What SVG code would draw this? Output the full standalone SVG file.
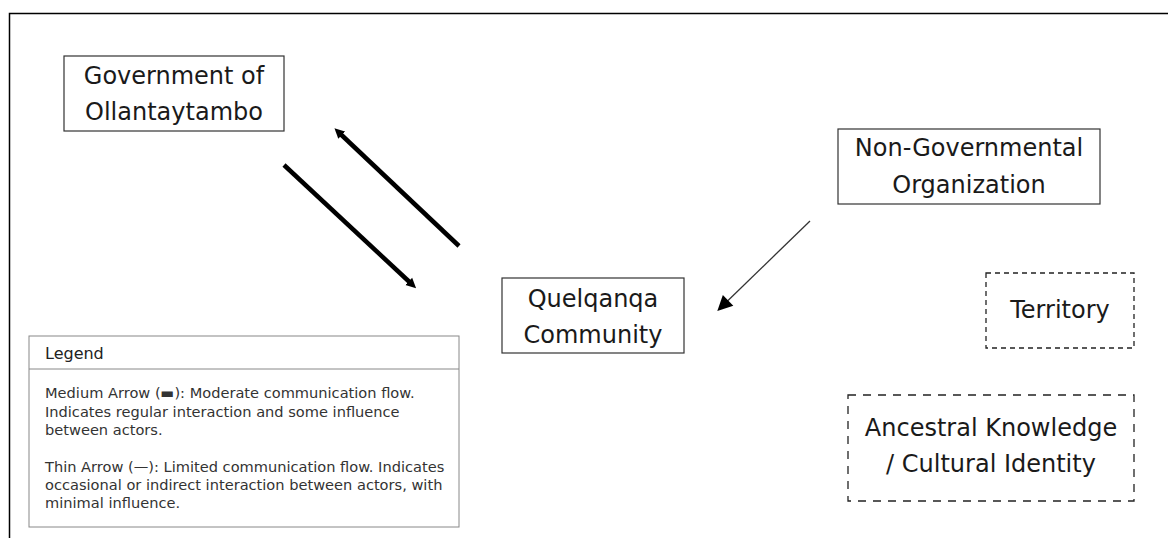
<svg xmlns="http://www.w3.org/2000/svg" width="1168" height="538" viewBox="0 0 1168 538">
<style>
.node{fill:#fff;stroke:#333;stroke-width:1.2}
.dash1{fill:#fff;stroke:#222;stroke-width:1.3;stroke-dasharray:5 4}
.dash2{fill:#fff;stroke:#222;stroke-width:1.3;stroke-dasharray:8 7}
.lbl{font-family:"DejaVu Sans",sans-serif;font-size:24px;fill:#1a1a1a;text-anchor:middle}
.leg{font-family:"DejaVu Sans",sans-serif;font-size:14.6px;fill:#333}
.legt{font-family:"DejaVu Sans",sans-serif;font-size:16px;fill:#222}
.med{stroke:#000;stroke-width:4.5;fill:none}
.thin{stroke:#333;stroke-width:1.3;fill:none}
</style>
<defs>
<marker id="hMed" viewBox="0 0 10 10" refX="1" refY="5" markerWidth="10" markerHeight="11" markerUnits="userSpaceOnUse" orient="auto"><path d="M0,0 L10,5 L0,10 z" fill="#000"/></marker>
<marker id="hThin" viewBox="0 0 10 10" refX="1" refY="5" markerWidth="16" markerHeight="15" markerUnits="userSpaceOnUse" orient="auto"><path d="M0,0 L10,5 L0,10 z" fill="#000"/></marker>
</defs>
<rect width="1168" height="538" fill="#fff"/>
<path d="M9.5,538 V13.5 H1168" fill="none" stroke="#000" stroke-width="1.5"/>
<g id="connectors">
<line class="med" x1="459" y1="246" x2="341" y2="134.5" marker-end="url(#hMed)"/>
<line class="med" x1="284" y1="165" x2="409.5" y2="282" marker-end="url(#hMed)"/>
<line class="thin" x1="810" y1="221" x2="727" y2="301.5" marker-end="url(#hThin)"/>
</g>
<g id="gov">
<rect class="node" x="64" y="56" width="220" height="75"/>
<text class="lbl" x="174" y="84">Government of</text>
<text class="lbl" x="174" y="120">Ollantaytambo</text>
</g>
<g id="ngo">
<rect class="node" x="838" y="129" width="262" height="75"/>
<text class="lbl" x="969" y="156">Non-Governmental</text>
<text class="lbl" x="969" y="193">Organization</text>
</g>
<g id="community">
<rect class="node" x="502" y="278" width="182" height="75"/>
<text class="lbl" x="593" y="307">Quelqanqa</text>
<text class="lbl" x="593" y="343">Community</text>
</g>
<g id="territory">
<rect class="dash1" x="986" y="273" width="148" height="75"/>
<text class="lbl" x="1060" y="318">Territory</text>
</g>
<g id="ancestral">
<rect class="dash2" x="848" y="395" width="286" height="106"/>
<text class="lbl" x="991" y="436">Ancestral Knowledge</text>
<text class="lbl" x="991" y="472">/ Cultural Identity</text>
</g>
<g id="legend">
<rect x="29" y="336" width="430" height="191" fill="#fff" stroke="#888" stroke-width="1"/>
<line x1="29" y1="369" x2="459" y2="369" stroke="#888" stroke-width="1"/>
<text class="legt" x="45" y="359">Legend</text>
<text class="leg" x="45" y="398">Medium Arrow (▬): Moderate communication flow.</text>
<text class="leg" x="45" y="417">Indicates regular interaction and some influence</text>
<text class="leg" x="45" y="435">between actors.</text>
<text class="leg" x="45" y="472">Thin Arrow (—): Limited communication flow. Indicates</text>
<text class="leg" x="45" y="490">occasional or indirect interaction between actors, with</text>
<text class="leg" x="45" y="508">minimal influence.</text>
</g>
</svg>
